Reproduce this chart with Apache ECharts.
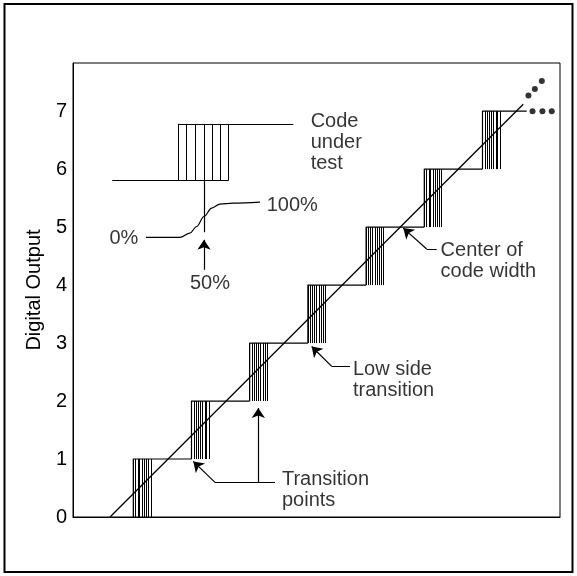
<!DOCTYPE html>
<html>
<head>
<meta charset="utf-8">
<script src="https://cdn.jsdelivr.net/npm/echarts@6/dist/echarts.min.js"></script>
<style>
html,body{margin:0;padding:0;background:#fff;}
#chart{width:577px;height:576px;}
</style>
</head>
<body>
<div id="chart"></div>
<script>
// ---- data (x in LSB of analog input, y in output code) ----
const codes = [0, 1, 2, 3, 4, 5, 6, 7];
const transitions = [0.5, 1.5, 2.5, 3.5, 4.5, 5.5, 6.5];          // low-side transition of each code step
const noiseOffsets = [0, 0.04, 0.08, 0.11, 0.15, 0.19, 0.23, 0.26, 0.3]; // spread of transition noise
const lastCodeEnd = 7.26;
const idealLine = [[0.1, 0], [7.2, 7.12]];
const moreDiag = [[7.29, 7.27], [7.40, 7.38], [7.52, 7.52]];
const moreFlat = [[7.36, 7.0], [7.53, 7.0], [7.69, 7.0]];

// inset: code under test
const insetLow = 5.80, insetHigh = 6.78;
const insetLowLine = [[0.139, insetLow], [2.133, insetLow]];
const insetHighLine = [[1.273, insetHigh], [3.25, insetHigh]];
const insetNoise = [1.273, 1.417, 1.560, 1.715, 1.864, 1.990, 2.133];
const insetCenter = [[1.715, insetLow], [1.715, 4.91]];
const probCurve = [[0.718, 4.821], [1.302, 4.821], [1.474, 4.897], [1.589, 5.010], [1.715, 5.183],
                   [1.847, 5.328], [1.990, 5.397], [2.218, 5.414], [2.677, 5.431]];

// annotation leaders (last segment carries the arrow head)
const leaders = [
  [[2.935, 0.597], [1.904, 0.597], [1.531, 0.959]],
  [[2.648, 0.597], [2.648, 1.879]],
  [[4.223, 2.597], [3.909, 2.597], [3.565, 2.941]],
  [[5.713, 4.621], [5.541, 4.621], [5.139, 4.983]],
  [[1.715, 4.264], [1.715, 4.78]]
];
const notes = [
  {text: 'Code\nunder\ntest', at: [3.548, 6.462], pos: 'right'},
  {text: 'Transition\npoints', at: [3.055, 0.462], pos: 'right'},
  {text: 'Low side\ntransition', at: [4.275, 2.367], pos: 'right'},
  {text: 'Center of\ncode width', at: [5.78, 4.407], pos: 'right'},
  {text: '100%', at: [2.792, 5.367], pos: 'right'},
  {text: '0%', at: [0.586, 4.81], pos: 'left'},
  {text: '50%', at: [1.818, 4.034], pos: 'inside'}
];

// ---- build geometry from data ----
const stairs = [];
transitions.forEach((t, i) => {
  const k = i + 1;
  stairs.push([t, k - 1], [t, k]);
  const next = i + 1 < transitions.length ? transitions[i + 1] : lastCodeEnd;
  stairs.push([next, k]);
  stairs.push('-');
});
const noiseSegs = [];
transitions.forEach((t, i) => {
  noiseOffsets.forEach(o => noiseSegs.push({coords: [[t + o, i], [t + o, i + 1]]}));
});
insetNoise.forEach(x => noiseSegs.push({coords: [[x, insetLow], [x, insetHigh]]}));
const plainSegs = [
  {coords: insetLowLine}, {coords: insetHighLine}, {coords: insetCenter}
];
const arrowSegs = [];
leaders.forEach(path => {
  for (let i = 0; i < path.length - 1; i++) {
    const seg = {coords: [path[i], path[i + 1]]};
    if (i === path.length - 2) arrowSegs.push(seg); else plainSegs.push(seg);
  }
});

const FONT = "'Liberation Sans', Arial, Helvetica, sans-serif";
const black = '#000';

const chart = echarts.init(document.getElementById('chart'), null, {renderer: 'canvas'});
chart.setOption({
  animation: false,
  backgroundColor: '#fff',
  textStyle: {fontFamily: FONT},
  graphic: [{
    type: 'rect', shape: {x: 4.5, y: 4, width: 568, height: 568},
    style: {fill: 'none', stroke: black, lineWidth: 2}, silent: true
  }],
  grid: {left: 73, right: 17, top: 63, bottom: 59, show: true, borderColor: black, borderWidth: 1},
  xAxis: {
    type: 'value', min: -0.536, max: 7.832,
    axisLine: {show: true, onZero: false, lineStyle: {color: black}}, axisTick: {show: false},
    axisLabel: {show: false}, splitLine: {show: false}
  },
  yAxis: {
    type: 'value', min: 0, max: 7.83, interval: 1,
    name: 'Digital Output', nameLocation: 'middle', nameGap: 28,
    nameTextStyle: {fontSize: 20, color: black, fontFamily: FONT},
    axisLine: {show: true, onZero: false, lineStyle: {color: black}}, axisTick: {show: false},
    axisLabel: {fontSize: 20, color: black, margin: 6, fontFamily: FONT, showMaxLabel: false,
      formatter: v => (codes.indexOf(v) >= 0 ? String(v) : '')},
    splitLine: {show: false}
  },
  series: [
    {type: 'line', data: stairs, showSymbol: false, symbol: 'none',
     lineStyle: {color: black, width: 1.2}, connectNulls: false},
    {type: 'lines', coordinateSystem: 'cartesian2d', data: noiseSegs,
     lineStyle: {color: black, width: 1, opacity: 1}},
    {type: 'line', data: idealLine, showSymbol: false, symbol: 'none', lineStyle: {color: black, width: 1.3}},
    {type: 'scatter', data: moreDiag.concat(moreFlat), symbol: 'circle', symbolSize: 6,
     itemStyle: {color: black}},
    {type: 'line', data: probCurve, smooth: 0.35, smoothMonotone: 'x', showSymbol: false, symbol: 'none',
     lineStyle: {color: black, width: 1.2}},
    {type: 'lines', coordinateSystem: 'cartesian2d', data: plainSegs,
     lineStyle: {color: black, width: 1.2, opacity: 1}},
    {type: 'lines', coordinateSystem: 'cartesian2d', data: arrowSegs,
     symbol: ['none', 'arrow'], symbolSize: 10,
     lineStyle: {color: black, width: 1.2, opacity: 1}},
    {type: 'scatter', symbolSize: 0,
     data: notes.map(n => ({value: n.at, name: n.text,
       label: {position: n.pos}})),
     label: {show: true, formatter: p => p.name, color: black, fontSize: 20, lineHeight: 21,
       distance: 0, fontFamily: FONT}}
  ]
});
</script>
</body>
</html>
